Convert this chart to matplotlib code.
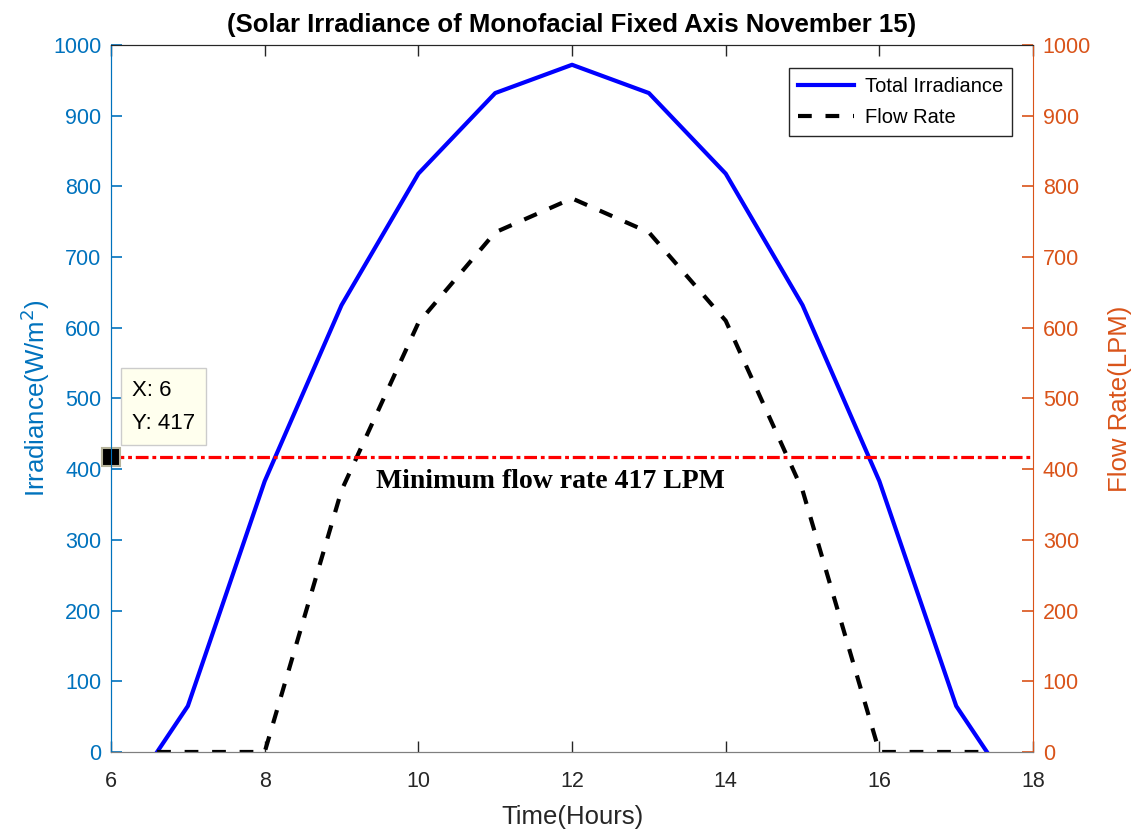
import numpy as np
import matplotlib.pyplot as plt

plt.rcParams['font.family'] = ['Liberation Sans', 'DejaVu Sans']

# hourly values, November 15, monofacial fixed axis
hours = [6.6, 7, 8, 9, 10, 11, 12, 13, 14, 15, 16, 17, 17.4]
irradiance = [0, 65, 383, 632, 818, 932, 972, 932, 818, 632, 383, 65, 0]
flow_rate = [0, 0, 0, 370, 607, 735, 783, 735, 610, 370, 0, 0, 0]
min_flow = 417
tip_x = 6

blue = '#0072BD'
orange = '#D95319'
axcol = '#262626'

fig = plt.figure(figsize=(11.41, 8.30), dpi=100)
ax = fig.add_axes([0.0973, 0.094, 0.8081, 0.8518])
ax2 = ax.twinx()

l1, = ax.plot(hours, irradiance, color='blue', lw=3, label='Total Irradiance')
l2, = ax.plot(hours, flow_rate, color='black', lw=3, ls=(0, (3.3, 3.3)), label='Flow Rate')
ax.axhline(min_flow, color='red', lw=2.3, ls=(0, (4, 1.2, 1.2, 1.2)))

ax.set_xlim(6, 18)
ax.set_ylim(0, 1000)
ax2.set_ylim(0, 1000)
ax.set_xticks(np.arange(6, 19, 2))
ax.set_yticks(np.arange(0, 1001, 100))
ax2.set_yticks(np.arange(0, 1001, 100))

ax.tick_params(axis='x', direction='in', length=8, width=1, colors=axcol, labelsize=15.5,
               top=True, labelcolor='#262626', pad=14)
ax.tick_params(axis='y', direction='in', length=8, width=1.2, colors=blue, labelsize=15.5, pad=7)
ax2.tick_params(axis='y', direction='in', length=8, width=1.2, colors=orange, labelsize=15.5, pad=7)

for a in (ax, ax2):
    a.spines['top'].set_color(axcol)
    a.spines['bottom'].set_color('#7f7f7f')
ax.spines['left'].set_color(blue)
ax2.spines['left'].set_color(blue)
ax2.spines['right'].set_color(orange)
ax.spines['right'].set_visible(False)

ax.set_xlabel('Time(Hours)', fontsize=18.5, color='#262626', labelpad=9)
ax.set_ylabel('Irradiance(W/m$^2$)', fontsize=18.5, color=blue, labelpad=1)
ax2.set_ylabel('Flow Rate(LPM)', fontsize=18.5, color=orange, labelpad=12)
ax.set_title('(Solar Irradiance of Monofacial Fixed Axis November 15)',
             fontsize=18.5, fontweight='bold', pad=9)

leg = ax.legend(handles=[l1, l2], loc='upper right', fontsize=14.5, fancybox=False,
                framealpha=1, edgecolor='#262626', handlelength=2.8,
                bbox_to_anchor=(0.977, 0.968), borderaxespad=0,
                borderpad=0.45, labelspacing=0.6, handletextpad=0.5)
leg.get_frame().set_linewidth(1)

# data tip on the threshold line
ax.plot([tip_x], [min_flow], marker='s', ms=13, mfc='black', mec='#b5b39a', mew=1.5,
        clip_on=False, zorder=5)
ax.annotate(f'X: {tip_x}\nY: {min_flow}', xy=(tip_x, min_flow), xytext=(15, 17),
            textcoords='offset points', fontsize=16, va='bottom', ha='left',
            linespacing=1.75,
            bbox=dict(boxstyle='square,pad=0.5', fc='#ffffee', ec='#cccccc', lw=1))

ax.text(9.45, 383, f'Minimum flow rate {min_flow} LPM', family='Liberation Serif',
        fontweight='bold', fontsize=20, va='center', ha='left')

fig.savefig('out.png', dpi=100)
